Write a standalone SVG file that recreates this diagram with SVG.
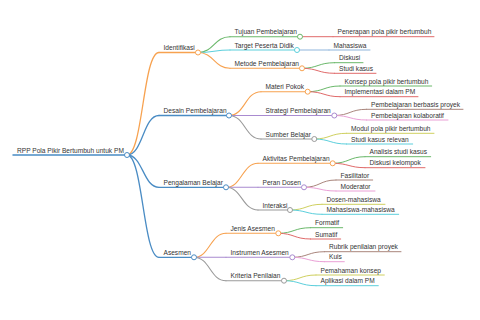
<svg xmlns="http://www.w3.org/2000/svg" width="480" height="320" viewBox="0 0 480 320">
<style>
text{font-family:"Liberation Sans",Arial,sans-serif;font-size:6.6px;fill:#333}
path,line{fill:none;stroke-linecap:round}
circle{fill:#fff;stroke-width:1}
.d0{stroke-width:1.5}.d1{stroke-width:1.3}.d2{stroke-width:1.1}.d3{stroke-width:1}
.blue{stroke:#4a8cc4}.orange{stroke:#f7a250}.green{stroke:#6ab86a}.red{stroke:#e06a6a}
.purple{stroke:#a98bd0}.gray{stroke:#9a9a9a}.brown{stroke:#a9857c}.pink{stroke:#eaa0d6}
.olive{stroke:#cfd060}.cyan{stroke:#5ccfdc}.lblue{stroke:#8fb5dc}
</style>
<g id="connectors">
<path class="d1 orange" d="M127 155C143 155 143 52.5 159 52.5"/>
<path class="d1 blue" d="M127 155C143 155 143 115.5 159 115.5"/>
<path class="d1 blue" d="M127 155C143 155 143 187.3 159 187.3"/>
<path class="d1 blue" d="M127 155C143 155 143 257.3 159 257.3"/>
<path class="d2 green" d="M198 52.5C214 52.5 214 36.7 230 36.7"/>
<path class="d2 cyan" d="M198 52.5C214 52.5 214 50 230 50"/>
<path class="d2 orange" d="M198 52.5C214 52.5 214 68.3 230 68.3"/>
<path class="d3 red" d="M300 36.7L333 36.7"/>
<path class="d3 lblue" d="M297 50L329 50"/>
<path class="d3 green" d="M302 68.3C318 68.3 318 62.7 334.5 62.7"/>
<path class="d3 red" d="M302 68.3C318 68.3 318 73.3 334.5 73.3"/>
<path class="d2 orange" d="M229 115.5C245 115.5 245 91.7 261 91.7"/>
<path class="d2 purple" d="M229 115.5L261 115.5"/>
<path class="d2 gray" d="M229 115.5C245 115.5 245 139 261 139"/>
<path class="d3 green" d="M307.7 91.7C324 91.7 324 86 340 86"/>
<path class="d3 red" d="M307.7 91.7C324 91.7 324 96.7 340 96.7"/>
<path class="d3 brown" d="M334.3 115.5C350 115.5 350 109.3 366.5 109.3"/>
<path class="d3 pink" d="M334.3 115.5C350 115.5 350 120 366.5 120"/>
<path class="d3 olive" d="M314.3 139C330 139 330 133.3 346.5 133.3"/>
<path class="d3 cyan" d="M314.3 139C330 139 330 144 346.5 144"/>
<path class="d2 orange" d="M226 187.3C242 187.3 242 163.3 258 163.3"/>
<path class="d2 purple" d="M226 187.3L258 187.3"/>
<path class="d2 gray" d="M226 187.3C242 187.3 242 210 258 210"/>
<path class="d3 green" d="M332.7 163.3C349 163.3 349 156.7 365 156.7"/>
<path class="d3 red" d="M332.7 163.3C349 163.3 349 167.7 365 167.7"/>
<path class="d3 brown" d="M304 187.3C320 187.3 320 180 336 180"/>
<path class="d3 pink" d="M304 187.3C320 187.3 320 191 336 191"/>
<path class="d3 olive" d="M290 210C306 210 306 204.3 322 204.3"/>
<path class="d3 cyan" d="M290 210C306 210 306 214.3 322 214.3"/>
<path class="d2 orange" d="M194 257.3C210 257.3 210 233.3 226 233.3"/>
<path class="d2 purple" d="M194 257.3L226 257.3"/>
<path class="d2 gray" d="M194 257.3C210 257.3 210 280.7 226 280.7"/>
<path class="d3 green" d="M278.3 233.3C294 233.3 294 227.7 310.5 227.7"/>
<path class="d3 red" d="M278.3 233.3C294 233.3 294 239 310.5 239"/>
<path class="d3 brown" d="M292.3 257.3C308 257.3 308 251.7 324.5 251.7"/>
<path class="d3 pink" d="M292.3 257.3C308 257.3 308 261.7 324.5 261.7"/>
<path class="d3 olive" d="M284 280.7C300 280.7 300 275 316 275"/>
<path class="d3 cyan" d="M284 280.7C300 280.7 300 285.7 316 285.7"/>
</g>
<g id="root"><path class="d0 blue" d="M13 155H127"/><circle class="blue" cx="127" cy="155" r="2.5"/><text x="17" y="152.5">RPP Pola Pikir Bertumbuh untuk PM</text></g>
<g id="identifikasi"><path class="d1 orange" d="M159 52.5H198"/><circle class="orange" cx="198" cy="52.5" r="2.5"/><text x="163.5" y="50">Identifikasi</text></g>
<g id="tujuan"><path class="d2 green" d="M230 36.7H300"/><circle class="green" cx="300" cy="36.7" r="2.5"/><text x="234.5" y="34.2">Tujuan Pembelajaran</text></g>
<g id="target"><path class="d2 cyan" d="M230 50H297"/><circle class="cyan" cx="297" cy="50" r="2.5"/><text x="234.5" y="47.5">Target Peserta Didik</text></g>
<g id="metode"><path class="d2 orange" d="M230 68.3H302"/><circle class="orange" cx="302" cy="68.3" r="2.5"/><text x="234.5" y="65.8">Metode Pembelajaran</text></g>
<g id="penerapan"><path class="d3 red" d="M333 36.7H434"/><text x="337.5" y="34.2">Penerapan pola pikir bertumbuh</text></g>
<g id="mahasiswa"><path class="d3 lblue" d="M329 50H370"/><text x="333.5" y="47.5">Mahasiswa</text></g>
<g id="diskusi"><path class="d3 green" d="M334.5 62.7H363"/><text x="339" y="60.2">Diskusi</text></g>
<g id="studikasus"><path class="d3 red" d="M334.5 73.3H376"/><text x="339" y="70.8">Studi kasus</text></g>
<g id="desain"><path class="d1 blue" d="M159 115.5H229"/><circle class="blue" cx="229" cy="115.5" r="2.5"/><text x="163.5" y="113">Desain Pembelajaran</text></g>
<g id="materi"><path class="d2 orange" d="M261 91.7H307.7"/><circle class="orange" cx="307.7" cy="91.7" r="2.5"/><text x="265.5" y="89.2">Materi Pokok</text></g>
<g id="strategi"><path class="d2 purple" d="M261 115.5H334.3"/><circle class="purple" cx="334.3" cy="115.5" r="2.5"/><text x="265.5" y="113">Strategi Pembelajaran</text></g>
<g id="sumber"><path class="d2 gray" d="M261 139H314.3"/><circle class="gray" cx="314.3" cy="139" r="2.5"/><text x="265.5" y="136.5">Sumber Belajar</text></g>
<g id="konsep"><path class="d3 green" d="M340 86H431.7"/><text x="344.5" y="83.5">Konsep pola pikir bertumbuh</text></g>
<g id="implementasi"><path class="d3 red" d="M340 96.7H418"/><text x="344.5" y="94.2">Implementasi dalam PM</text></g>
<g id="proyek"><path class="d3 brown" d="M366.5 109.3H463"/><text x="371" y="106.8">Pembelajaran berbasis proyek</text></g>
<g id="kolaboratif"><path class="d3 pink" d="M366.5 120H448"/><text x="371" y="117.5">Pembelajaran kolaboratif</text></g>
<g id="modul"><path class="d3 olive" d="M346.5 133.3H434"/><text x="351" y="130.8">Modul pola pikir bertumbuh</text></g>
<g id="studirelevan"><path class="d3 cyan" d="M346.5 144H412.7"/><text x="351" y="141.5">Studi kasus relevan</text></g>
<g id="pengalaman"><path class="d1 blue" d="M159 187.3H226"/><circle class="blue" cx="226" cy="187.3" r="2.5"/><text x="163.5" y="184.8">Pengalaman Belajar</text></g>
<g id="aktivitas"><path class="d2 orange" d="M258 163.3H332.7"/><circle class="orange" cx="332.7" cy="163.3" r="2.5"/><text x="262.5" y="160.8">Aktivitas Pembelajaran</text></g>
<g id="peran"><path class="d2 purple" d="M258 187.3H304"/><circle class="purple" cx="304" cy="187.3" r="2.5"/><text x="262.5" y="184.8">Peran Dosen</text></g>
<g id="interaksi"><path class="d2 gray" d="M258 210H290"/><circle class="gray" cx="290" cy="210" r="2.5"/><text x="262.5" y="207.5">Interaksi</text></g>
<g id="analisis"><path class="d3 green" d="M365 156.7H430.7"/><text x="369.5" y="154.2">Analisis studi kasus</text></g>
<g id="diskusikelompok"><path class="d3 red" d="M365 167.7H425"/><text x="369.5" y="165.2">Diskusi kelompok</text></g>
<g id="fasilitator"><path class="d3 brown" d="M336 180H372.7"/><text x="340.5" y="177.5">Fasilitator</text></g>
<g id="moderator"><path class="d3 pink" d="M336 191H375"/><text x="340.5" y="188.5">Moderator</text></g>
<g id="dosenmhs"><path class="d3 olive" d="M322 204.3H385"/><text x="326.5" y="201.8">Dosen-mahasiswa</text></g>
<g id="mhsmhs"><path class="d3 cyan" d="M322 214.3H398.7"/><text x="326.5" y="211.8">Mahasiswa-mahasiswa</text></g>
<g id="asesmen"><path class="d1 blue" d="M159 257.3H194"/><circle class="blue" cx="194" cy="257.3" r="2.5"/><text x="163.5" y="254.8">Asesmen</text></g>
<g id="jenis"><path class="d2 orange" d="M226 233.3H278.3"/><circle class="orange" cx="278.3" cy="233.3" r="2.5"/><text x="230.5" y="230.8">Jenis Asesmen</text></g>
<g id="instrumen"><path class="d2 purple" d="M226 257.3H292.3"/><circle class="purple" cx="292.3" cy="257.3" r="2.5"/><text x="230.5" y="254.8">Instrumen Asesmen</text></g>
<g id="kriteria"><path class="d2 gray" d="M226 280.7H284"/><circle class="gray" cx="284" cy="280.7" r="2.5"/><text x="230.5" y="278.2">Kriteria Penilaian</text></g>
<g id="formatif"><path class="d3 green" d="M310.5 227.7H342.7"/><text x="315" y="225.2">Formatif</text></g>
<g id="sumatif"><path class="d3 red" d="M310.5 239H340.7"/><text x="315" y="236.5">Sumatif</text></g>
<g id="rubrik"><path class="d3 brown" d="M324.5 251.7H401"/><text x="329" y="249.2">Rubrik penilaian proyek</text></g>
<g id="kuis"><path class="d3 pink" d="M324.5 261.7H344.3"/><text x="329" y="259.2">Kuis</text></g>
<g id="pemahaman"><path class="d3 olive" d="M316 275H384.3"/><text x="320.5" y="272.5">Pemahaman konsep</text></g>
<g id="aplikasi"><path class="d3 cyan" d="M316 285.7H378.3"/><text x="320.5" y="283.2">Aplikasi dalam PM</text></g>
</svg>
